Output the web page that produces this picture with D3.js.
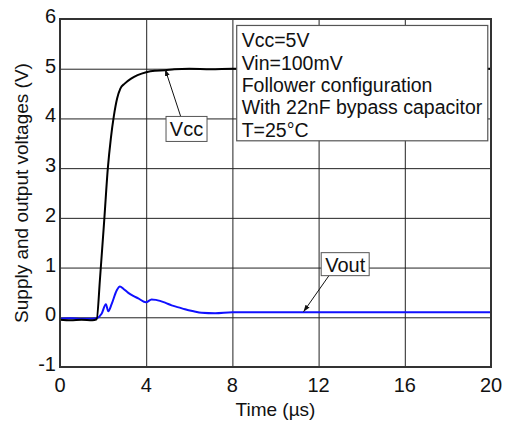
<!DOCTYPE html>
<html>
<head>
<meta charset="utf-8">
<script src="https://cdn.jsdelivr.net/npm/d3@7"></script>
<style>
  body { margin: 0; background: #fff; }
  text { font-family: "Liberation Sans", Arial, sans-serif; fill: #111; }
</style>
</head>
<body>
<script>
// Vcc supply ramp (time in us, volts)
var vccTime = [0, 0.5, 1.0, 1.5, 1.7, 1.86, 2.06, 2.22, 2.36, 2.5, 2.65, 2.8, 3.0, 3.3, 3.6, 4.0, 4.4, 4.87, 5.3, 6, 7, 8, 10, 14, 18, 20];
var vccVolt = [-0.05, -0.06, -0.05, -0.06, -0.04, 0.8, 2.0, 3.0, 3.6, 4.05, 4.4, 4.6, 4.7, 4.8, 4.87, 4.93, 4.96, 4.97, 4.99, 5.0, 4.99, 5.0, 5.0, 5.0, 5.0, 5.0];

// Vout follower output
var voutTime = [0, 0.5, 1.0, 1.5, 1.7, 1.93, 2.13, 2.24, 2.4, 2.63, 2.78, 2.95, 3.17, 3.4, 3.63, 3.99, 4.25, 4.45, 4.64, 4.9, 5.18, 5.5, 5.8, 6.2, 6.57, 7.2, 8, 10, 14, 18, 20];
var voutVolt = [-0.03, -0.02, -0.03, -0.03, -0.02, 0.07, 0.26, 0.12, 0.27, 0.54, 0.62, 0.57, 0.49, 0.43, 0.38, 0.3, 0.36, 0.35, 0.33, 0.29, 0.24, 0.2, 0.16, 0.12, 0.09, 0.08, 0.1, 0.1, 0.1, 0.1, 0.1];

var xTicks = [0, 4, 8, 12, 16, 20];
var yTicks = [-1, 0, 1, 2, 3, 4, 5, 6];
var notes = ["Vcc=5V", "Vin=100mV", "Follower configuration", "With 22nF bypass capacitor", "T=25°C"];

var W = 508, H = 421;
var margin = { top: 19, right: 17, bottom: 54, left: 60 },
    width = W - margin.left - margin.right,
    height = H - margin.top - margin.bottom;

var svg = d3.select("body").append("svg")
    .attr("width", W)
    .attr("height", H);

var g = svg.append("g")
    .attr("transform", "translate(" + margin.left + "," + margin.top + ")");

var x = d3.scaleLinear().domain([0, 20]).range([0, width]);
var y = d3.scaleLinear().domain([-1, 6]).range([height, 0]);

// grid
g.append("g")
    .call(d3.axisBottom(x).tickValues(xTicks).tickSize(height).tickFormat(""))
    .call(function (s) { s.select(".domain").remove(); })
    .selectAll("line").attr("stroke", "#222").attr("stroke-width", 1);

g.append("g")
    .call(d3.axisLeft(y).tickValues(yTicks).tickSize(-width).tickFormat(""))
    .call(function (s) { s.select(".domain").remove(); })
    .selectAll("line").attr("stroke", "#222").attr("stroke-width", 1);

// tick labels
g.selectAll(".xl").data(xTicks).enter().append("text")
    .attr("x", function (d) { return x(d); })
    .attr("y", height + 25)
    .attr("text-anchor", "middle")
    .style("font-size", "20px")
    .text(function (d) { return d; });

g.selectAll(".yl").data(yTicks).enter().append("text")
    .attr("x", -4)
    .attr("y", function (d) { return y(d) + 4; })
    .attr("text-anchor", "end")
    .style("font-size", "20px")
    .text(function (d) { return d; });

// lines
var line = d3.line()
    .x(function (d) { return x(d[0]); })
    .y(function (d) { return y(d[1]); })
    .curve(d3.curveMonotoneX);

g.append("path")
    .datum(d3.zip(voutTime, voutVolt))
    .attr("fill", "none")
    .attr("stroke", "#1010ff")
    .attr("stroke-width", 2)
    .attr("d", line);

g.append("path")
    .datum(d3.zip(vccTime, vccVolt))
    .attr("fill", "none")
    .attr("stroke", "#000")
    .attr("stroke-width", 2)
    .attr("d", line);

// frame
g.append("rect")
    .attr("width", width).attr("height", height)
    .attr("fill", "none").attr("stroke", "#333").attr("stroke-width", 2);

// arrow marker
svg.append("defs").append("marker")
    .attr("id", "arr").attr("viewBox", "0 0 10 10")
    .attr("refX", 10).attr("refY", 5)
    .attr("markerWidth", 7).attr("markerHeight", 7)
    .attr("orient", "auto")
    .append("path").attr("d", "M0,1.5L10,5L0,8.5Z").attr("fill", "#111");

// conditions box
var nb = g.append("g");
nb.append("rect")
    .attr("x", x(8.2)).attr("y", y(5.87))
    .attr("width", x(19.85) - x(8.2)).attr("height", y(3.55) - y(5.87))
    .attr("fill", "#fff").attr("stroke", "#555").attr("stroke-width", 1.2);
nb.selectAll("text").data(notes).enter().append("text")
    .attr("x", x(8.2) + 5)
    .attr("y", function (d, i) { return y(5.87) + 22 + i * 22.3; })
    .style("font-size", "19.5px")
    .text(function (d) { return d; });

// Vcc callout
g.append("line")
    .attr("x1", x(5.6)).attr("y1", y(4.04))
    .attr("x2", x(4.88)).attr("y2", y(4.99))
    .attr("stroke", "#111").attr("marker-end", "url(#arr)");
g.append("rect")
    .attr("x", x(4.92)).attr("y", y(4.04))
    .attr("width", 41).attr("height", 25)
    .attr("fill", "#fff").attr("stroke", "#555");
g.append("text")
    .attr("x", x(4.92) + 20.5).attr("y", y(4.04) + 20)
    .attr("text-anchor", "middle")
    .style("font-size", "20px")
    .text("Vcc");

// Vout callout
g.append("line")
    .attr("x1", x(12.5)).attr("y1", y(0.85))
    .attr("x2", x(11.3)).attr("y2", y(0.11))
    .attr("stroke", "#111").attr("marker-end", "url(#arr)");
g.append("rect")
    .attr("x", x(12.12)).attr("y", y(1.3))
    .attr("width", 48).attr("height", 23)
    .attr("fill", "#fff").attr("stroke", "#555");
g.append("text")
    .attr("x", x(12.12) + 24).attr("y", y(1.3) + 19)
    .attr("text-anchor", "middle")
    .style("font-size", "20px")
    .text("Vout");

// axis titles
svg.append("text")
    .attr("x", margin.left + width / 2)
    .attr("y", 416)
    .attr("text-anchor", "middle")
    .style("font-size", "19px")
    .text("Time (µs)");

svg.append("text")
    .attr("transform", "translate(28," + (margin.top + height / 2) + ") rotate(-90)")
    .attr("text-anchor", "middle")
    .style("font-size", "19px")
    .text("Supply and output voltages (V)");
</script>
</body>
</html>
